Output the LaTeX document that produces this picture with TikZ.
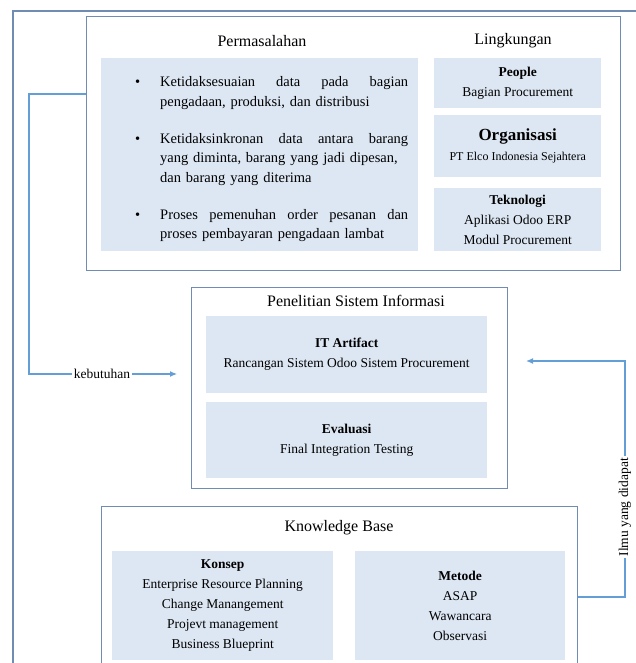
\documentclass[tikz,border=0pt]{standalone}
\usepackage{fontspec}
\setmainfont{Liberation Serif}
\usetikzlibrary{arrows.meta}
\definecolor{panelline}{RGB}{112,140,178}
\definecolor{cellfill}{RGB}{221,231,243}
\definecolor{linkblue}{RGB}{100,158,214}
\newcommand{\fullline}[1]{\leavevmode\hbox to 248pt{#1}}
\begin{document}
\begin{tikzpicture}[x=1pt,y=-1pt,
    panel/.style={draw=panelline,line width=1.1pt,fill=white,anchor=north west,inner sep=0pt},
    cell/.style={fill=cellfill,anchor=north west,inner sep=0pt,align=center,
        font=\fontsize{13.5}{20}\selectfont},
    title/.style={font=\fontsize{16}{18}\selectfont},
    link/.style={draw=linkblue,line width=1.1pt},
    tip/.style={-{Latex[length=7pt,width=6pt]}},
    tag/.style={fill=white,inner sep=2pt,font=\fontsize{13.5}{16}\selectfont}]
\useasboundingbox (0,0) rectangle (636,663);
\draw[draw=panelline,line width=1.1pt] (13,700) -- (13,11) -- (700,11);

% permasalahan dan lingkungan
\node[panel,minimum width=534pt,minimum height=254pt] (env) at (86,16) {};
\node[title] (probtitle) at (262,41) {Permasalahan};
\node[title] (envtitle) at (513,41) {Lingkungan};
\node[cell,minimum width=317pt,minimum height=193pt] (prob) at (101,58) {};
\node[anchor=north west,inner sep=0pt,text width=275pt,
    font=\fontsize{14.5}{19.5}\selectfont] (problist) at (133,67) {%
  \begin{list}{\textbullet}{\setlength{\leftmargin}{27pt}\setlength{\labelwidth}{7pt}%
      \setlength{\labelsep}{20pt}\setlength{\topsep}{0pt}\setlength{\partopsep}{0pt}%
      \setlength{\parsep}{0pt}\setlength{\itemsep}{17.5pt}}
  \item \fullline{Ketidaksesuaian\hfill data\hfill pada\hfill bagian}\\
    pengadaan, produksi, dan distribusi
  \item \fullline{Ketidaksinkronan\hfill data\hfill antara\hfill barang}\\
    yang diminta, barang yang jadi dipesan,\\
    dan barang yang diterima
  \item \fullline{Proses\hfill pemenuhan\hfill order\hfill pesanan\hfill dan}\\
    proses pembayaran pengadaan lambat
  \end{list}};
\node[cell,minimum width=167pt,minimum height=50pt] (people) at (434,58)
  {\textbf{People}\\Bagian Procurement};
\node[cell,minimum width=167pt,minimum height=62pt] (org) at (434,115)
  {{\fontsize{17}{20}\selectfont\bfseries Organisasi}\\
   {\fontsize{12}{20}\selectfont PT Elco Indonesia Sejahtera}};
\node[cell,minimum width=167pt,minimum height=63pt] (tech) at (434,188)
  {\textbf{Teknologi}\\Aplikasi Odoo ERP\\Modul Procurement};

% penelitian sistem informasi
\node[panel,minimum width=316pt,minimum height=201pt] (research) at (191,287) {};
\node[title] (researchtitle) at (356,301) {Penelitian Sistem Informasi};
\node[cell,minimum width=281pt,minimum height=77pt] (artifact) at (206,316)
  {\textbf{IT Artifact}\\Rancangan Sistem Odoo Sistem Procurement};
\node[cell,minimum width=281pt,minimum height=76pt] (eval) at (206,402)
  {\textbf{Evaluasi}\\Final Integration Testing};

% knowledge base
\node[panel,minimum width=476pt,minimum height=200pt] (kb) at (101,506) {};
\node[title] (kbtitle) at (339,528) {Knowledge Base};
\node[cell,minimum width=221pt,minimum height=109pt] (concept) at (112,551)
  {\textbf{Konsep}\\Enterprise Resource Planning\\Change Manangement\\Projevt management\\Business Blueprint};
\node[cell,minimum width=210pt,minimum height=109pt] (method) at (355,551)
  {\textbf{Metode}\\ASAP\\Wawancara\\Observasi};

% penghubung
\coordinate (needtop) at (29,94);
\coordinate (needbot) at (29,374);
\draw[link,tip,shorten >=14pt] (env.west |- needtop) -- (needtop) -- (needbot)
  -- node[tag,pos=0.45] (needlabel) {kebutuhan} (research.west |- needbot);
\coordinate (gainbot) at (625,597);
\coordinate (gaintop) at (625,361);
\draw[link,tip,shorten >=18pt] (kb.east |- gainbot) -- (gainbot)
  -- node[tag,pos=0.38,rotate=90] (gainlabel) {Ilmu yang didapat} (gaintop)
  -- (research.east |- gaintop);
\end{tikzpicture}
\end{document}
